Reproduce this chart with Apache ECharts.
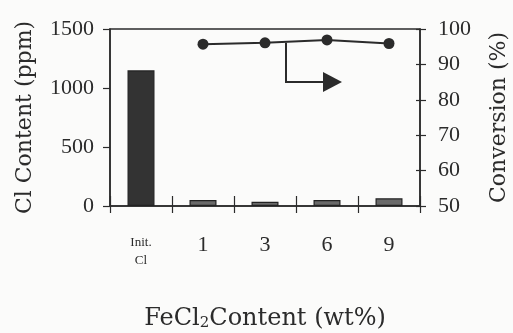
<!DOCTYPE html>
<html><head><meta charset="utf-8">
<script src="https://cdn.jsdelivr.net/npm/echarts@6/dist/echarts.min.js"></script>
<style>html,body{margin:0;padding:0;background:#fbfbfa}#c{width:513px;height:333px}</style>
</head><body><div id="c"></div>
<script>
const categories = ['Init.\nCl', '1', '3', '6', '9'];
const clContent = [1150, 50, 35, 50, 65];
const conversion = [null, 95.7, 96.1, 96.9, 95.9];
const leftTicks = [0, 500, 1000, 1500];
const rightTicks = [50, 60, 70, 80, 90, 100];

const font = 'Liberation Serif';
const titleFont = 'DejaVu Serif';
const ink = '#2b2b2b';
const chart = echarts.init(document.getElementById('c'));
const hiddenAxis = {axisLine: {show: false}, axisLabel: {show: false}, splitLine: {show: false}};
chart.setOption({
  backgroundColor: '#fbfbfa',
  animation: false,
  grid: {left: 110, right: 93, top: 29, bottom: 127, outerBoundsMode: 'none', containLabel: false,
    show: true, borderColor: ink, borderWidth: 1.5, backgroundColor: 'transparent'},
  xAxis: [{
    type: 'category', data: categories,
    axisLine: {lineStyle: {color: ink, width: 1.5}},
    axisTick: {show: true, length: 7, lineStyle: {color: ink, width: 1.2}},
    axisLabel: {
      interval: 0, margin: 28, color: ink, fontFamily: font, fontSize: 22,
      formatter: v => v.indexOf('\n') >= 0 ? '{s|' + v.replace('\n', '}\n{s|') + '}' : v,
      rich: {s: {fontFamily: font, fontSize: 13, color: ink, lineHeight: 18}}
    },
    name: 'FeCl{sub|2}Content (wt%)',
    nameLocation: 'middle', nameGap: 100,
    nameTextStyle: {fontFamily: titleFont, fontSize: 24, color: ink,
      rich: {sub: {fontFamily: titleFont, fontSize: 15, color: ink, padding: [10, 0, 0, 0]}}}
  }, Object.assign({
    type: 'category', data: categories, position: 'bottom',
    axisTick: {show: true, inside: true, length: 10, lineStyle: {color: ink, width: 1.2}}
  }, hiddenAxis)],
  yAxis: [{
    type: 'value', min: 0, max: 1500, interval: 500,
    axisLine: {show: true, lineStyle: {color: ink, width: 1.5}},
    axisTick: {show: true, length: 7, lineStyle: {color: ink, width: 1.2}},
    splitLine: {show: false},
    axisLabel: {color: ink, fontFamily: font, fontSize: 22, margin: 16,
      formatter: v => leftTicks.includes(v) ? String(v) : ''},
    name: 'Cl Content (ppm)', nameLocation: 'middle', nameGap: 74,
    nameTextStyle: {fontFamily: titleFont, fontSize: 22, color: ink}
  }, {
    type: 'value', min: 50, max: 100, interval: 10, position: 'right',
    axisLine: {show: true, lineStyle: {color: ink, width: 1.5}},
    axisTick: {show: true, length: 6, lineStyle: {color: ink, width: 1.2}},
    splitLine: {show: false},
    axisLabel: {color: ink, fontFamily: font, fontSize: 22, margin: 18,
      formatter: v => rightTicks.includes(v) ? String(v) : ''},
    name: 'Conversion (%)', nameLocation: 'middle', nameGap: 68, nameRotate: 90,
    nameTextStyle: {fontFamily: titleFont, fontSize: 22, color: ink}
  }, Object.assign({
    type: 'value', min: 50, max: 100, interval: 10, position: 'right', offset: 0,
    axisTick: {show: true, inside: true, length: 4, lineStyle: {color: ink, width: 1.2}}
  }, hiddenAxis)],
  series: [{
    type: 'bar', data: clContent, yAxisIndex: 0, barWidth: 27,
    itemStyle: {color: params => params.dataIndex === 0 ? '#333' : '#6a6a6a', borderColor: '#222', borderWidth: 1.2}
  }, {
    type: 'line', data: conversion, yAxisIndex: 1,
    symbol: 'circle', symbolSize: 11,
    lineStyle: {color: ink, width: 2}, itemStyle: {color: ink}
  }]
});
// arrow annotation pointing to right axis
const p3 = chart.convertToPixel({xAxisIndex: 0, yAxisIndex: 1}, ['3', 96.1]);
const p6 = chart.convertToPixel({xAxisIndex: 0, yAxisIndex: 1}, ['6', 85]);
const x0 = p3[0] + 21, y1 = p6[1], tip = p6[0] + 15;
chart.setOption({graphic: [
  {type: 'polyline', shape: {points: [[x0, p3[1]], [x0, y1], [tip - 16, y1]]}, style: {stroke: ink, lineWidth: 2, fill: null}},
  {type: 'polygon', shape: {points: [[tip - 19, y1 - 10], [tip, y1], [tip - 19, y1 + 10]]}, style: {fill: ink}}
]});
</script></body></html>
